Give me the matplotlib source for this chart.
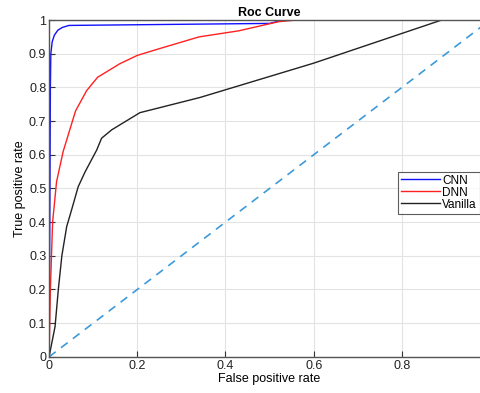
import numpy as np
import matplotlib
matplotlib.use("Agg")
from matplotlib import pyplot as plt

plt.rcParams['font.family'] = ['Liberation Sans', 'DejaVu Sans']

# ROC points
cnn_fpr = [0.0, 0.002, 0.003, 0.004, 0.007, 0.012, 0.02, 0.03, 0.045, 0.5, 0.53, 1.0]
cnn_tpr = [0.0, 0.5, 0.8, 0.9, 0.935, 0.955, 0.97, 0.978, 0.984, 0.99, 1.0, 1.0]

dnn_fpr = [0.0, 0.003, 0.008, 0.017, 0.032, 0.06, 0.085, 0.11, 0.16, 0.2, 0.25, 0.34, 0.43, 0.52, 0.56, 1.0]
dnn_tpr = [0.0, 0.2, 0.4, 0.52, 0.61, 0.73, 0.79, 0.83, 0.87, 0.895, 0.915, 0.95, 0.968, 0.995, 1.0, 1.0]

van_fpr = [0.0, 0.0136, 0.021, 0.029, 0.04, 0.051, 0.066, 0.082, 0.108, 0.119, 0.142, 0.206, 0.342, 0.6, 0.89, 1.0]
van_tpr = [0.0, 0.09, 0.2, 0.3, 0.387, 0.436, 0.505, 0.55, 0.614, 0.649, 0.674, 0.725, 0.77, 0.872, 1.0, 1.0]

diag = [0.0, 1.0]

fig = plt.figure(figsize=(4.81, 3.93), dpi=100)
ax = fig.add_axes([0.102, 0.092, 0.917, 0.857])

ax.plot(cnn_fpr, cnn_tpr, color='#1010ff', lw=1.0, label='CNN')
ax.plot(dnn_fpr, dnn_tpr, color='#ff2020', lw=1.0, label='DNN')
ax.plot(van_fpr, van_tpr, color='#222222', lw=1.0, label='Vanilla')
ax.plot(diag, diag, color='#3d9ad9', lw=1.2, ls=(0, (5, 4)))

ax.set_xlim(0, 1)
ax.set_ylim(0, 1)
ax.set_xticks(np.arange(0, 0.81, 0.2))
ax.set_xticklabels(['0', '0.2', '0.4', '0.6', '0.8'])
ax.set_yticks(np.arange(0, 1.01, 0.1))
ax.set_yticklabels(['0', '0.1', '0.2', '0.3', '0.4', '0.5', '0.6', '0.7', '0.8', '0.9', '1'])
ax.tick_params(direction='in', labelsize=9, length=4, color='#333333', labelcolor='#222222', pad=2)
ax.grid(True, color='#e3e3e3', lw=0.8)
for s in ax.spines.values():
    s.set_color('#555555')
    s.set_linewidth(1.0)

ax.set_title('Roc Curve', fontsize=9, fontweight='bold', pad=3)
ax.set_xlabel('False positive rate', fontsize=9, labelpad=1)
ax.set_ylabel('True positive rate', fontsize=9, labelpad=2)

leg = ax.legend(loc='center right', bbox_to_anchor=(0.997, 0.51), bbox_transform=fig.transFigure,
                fontsize=8.5, frameon=True, fancybox=False, handlelength=3.3, handletextpad=0.2,
                borderpad=0.25, labelspacing=0.0, borderaxespad=0.0)
leg.get_frame().set_edgecolor('#333333')
leg.get_frame().set_linewidth(0.8)

fig.savefig('out.png', dpi=100)
